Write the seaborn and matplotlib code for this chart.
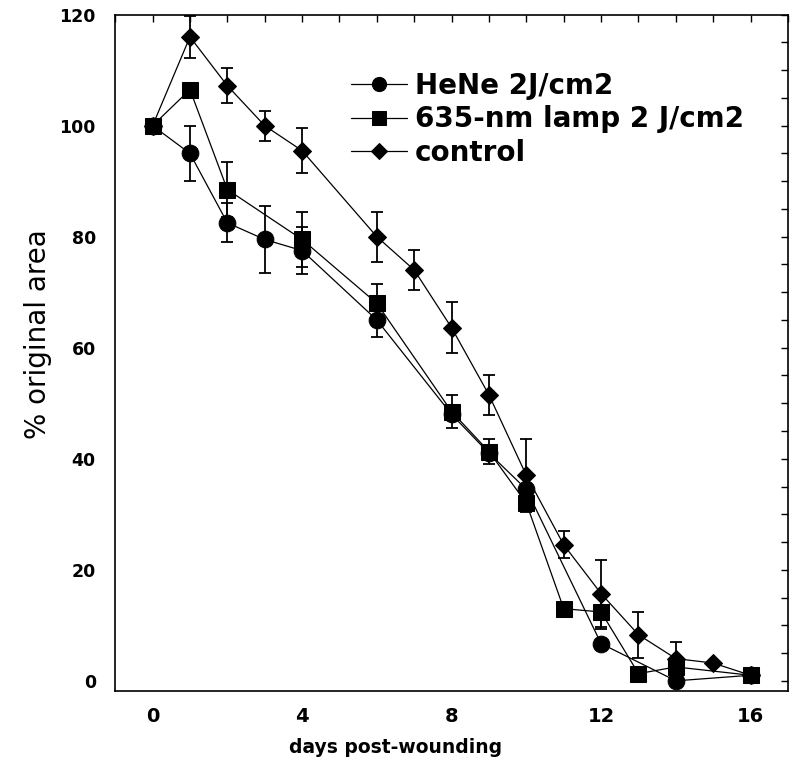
import seaborn as sns
import matplotlib.pyplot as plt
import numpy as np
import pandas as pd
from matplotlib.ticker import MultipleLocator

# HeNe 2J/cm2 (circles)
days_hene = [0, 1, 2, 3, 4, 6, 8, 9, 10, 12, 14, 16]
area_hene = [100, 95, 82.5, 79.5, 77.5, 65, 48, 41, 34.5, 6.7, 0, 1]
err_hene = [0, 5, 3.5, 6, 4.3, 3, 0, 0, 0, 0, 0, 0]

# 635-nm lamp 2 J/cm2 (squares)
days_lamp = [0, 1, 2, 4, 6, 8, 9, 10, 11, 12, 13, 14, 16]
area_lamp = [100, 106.5, 88.5, 79.5, 68, 48.5, 41.3, 32, 13, 12.4, 1.3, 2.5, 1]
err_lamp = [0, 0, 5, 5, 3.5, 3, 2.3, 0, 0, 3, 0, 0, 0]

# control (diamonds)
days_ctrl = [0, 1, 2, 3, 4, 6, 7, 8, 9, 10, 11, 12, 13, 14, 15, 16]
area_ctrl = [100, 116, 107.2, 100, 95.5, 80, 74, 63.6, 51.5, 37, 24.5, 15.7, 8.3, 4, 3.2, 1]
err_ctrl = [0, 3.8, 3.2, 2.7, 4, 4.5, 3.6, 4.6, 3.6, 6.5, 2.4, 6, 4.1, 3, 0, 0]

labels = ['HeNe 2J/cm2', '635-nm lamp 2 J/cm2', 'control']

df = pd.concat([
    pd.DataFrame({'day': days_hene, 'area': area_hene, 'err': err_hene, 'group': labels[0]}),
    pd.DataFrame({'day': days_lamp, 'area': area_lamp, 'err': err_lamp, 'group': labels[1]}),
    pd.DataFrame({'day': days_ctrl, 'area': area_ctrl, 'err': err_ctrl, 'group': labels[2]}),
])

sns.set_style('white')
plt.rcParams['font.family'] = ['DejaVu Sans']
plt.rcParams['text.color'] = 'black'
plt.rcParams['axes.labelcolor'] = 'black'
plt.rcParams['xtick.color'] = 'black'
plt.rcParams['ytick.color'] = 'black'

fig = plt.figure(figsize=(8, 7.71), dpi=100)
ax = fig.add_axes([0.144, 0.104, 0.841, 0.877])

# error bars first, lines/markers on top
for g in labels[::-1]:
    d = df[df['group'] == g]
    ax.errorbar(d['day'], d['area'], yerr=d['err'], fmt='none', ecolor='black',
                elinewidth=1.3, capsize=4, capthick=1.3, zorder=2)

sns.lineplot(data=df, x='day', y='area', style='group', style_order=labels,
             markers={labels[0]: 'o', labels[1]: 's', labels[2]: 'D'},
             dashes=False, color='black', linewidth=0.9, markersize=12,
             markeredgecolor='black', errorbar=None, sort=True, ax=ax, zorder=3)

# diamonds a bit smaller than circles/squares
for line in ax.get_lines():
    if line.get_marker() == 'D':
        line.set_markersize(9)

ax.set_xlim(-1, 17)
ax.set_ylim(-1.8, 120)
ax.xaxis.set_major_locator(MultipleLocator(4))
ax.xaxis.set_minor_locator(MultipleLocator(1))
ax.yaxis.set_major_locator(MultipleLocator(20))
ax.yaxis.set_minor_locator(MultipleLocator(5))
ax.tick_params(which='both', direction='in', top=True, right=True,
               length=5, width=1, color='black')
ax.tick_params(axis='y', which='major', labelsize=12.5, pad=14)
ax.tick_params(axis='x', which='major', labelsize=14, pad=12)
for t in ax.get_xticklabels() + ax.get_yticklabels():
    t.set_fontweight('bold')

for s in ax.spines.values():
    s.set_color('black')
    s.set_linewidth(1.2)

ax.set_xlabel('days post-wounding', fontsize=13.5, fontweight='bold')
ax.xaxis.set_label_coords(0.416, -0.07)
ax.set_ylabel('% original area', fontsize=20)
ax.yaxis.set_label_coords(-0.094, 0.527)

leg = ax.legend(loc='upper left', bbox_to_anchor=(0.33, 0.936), frameon=False,
                fontsize=20, handlelength=2.0, handletextpad=0.3,
                labelspacing=0.2, borderpad=0, markerscale=0.85)
for t in leg.get_texts():
    t.set_fontweight('bold')

fig.savefig('out.png', dpi=100)
